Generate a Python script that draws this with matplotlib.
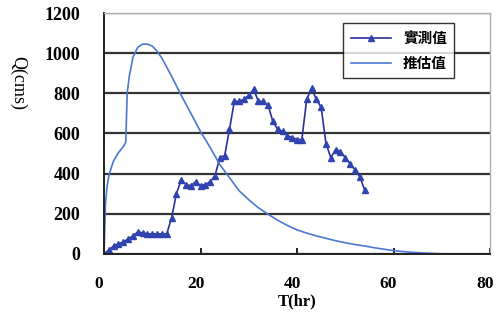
import matplotlib.pyplot as plt
from matplotlib.transforms import ScaledTranslation

plt.rcParams['font.family'] = ['Liberation Serif', 'Noto Sans CJK TC', 'DejaVu Sans']

# measured discharge (實測值), hourly
t_obs = list(range(0, 55))
q_obs = [0, 20, 40, 50, 60, 75, 90, 110, 105, 100,
         100, 100, 100, 100, 180, 300, 370, 345, 340, 360,
         340, 345, 360, 390, 480, 490, 620, 760, 760, 770,
         790, 820, 760, 760, 740, 660, 620, 610, 590, 580,
         570, 570, 770, 825, 770, 730, 550, 480, 520, 510,
         480, 450, 420, 385, 320]

# estimated discharge (推估值)
t_est = [0, 0.3, 0.6, 1, 1.5, 2, 3, 4, 4.5, 4.8, 5.2, 6, 7, 8, 9, 10, 11, 12,
         14, 16, 18, 20, 22, 24, 26, 28, 30, 32, 34, 36, 38, 40, 42, 44, 46,
         48, 50, 52, 54, 56, 58, 60, 62, 64, 66, 68, 70, 71]
q_est = [0, 250, 330, 390, 430, 465, 505, 535, 555, 800, 880, 980, 1030, 1045,
         1045, 1035, 1010, 975, 885, 790, 700, 610, 530, 445, 380, 315, 270,
         230, 198, 168, 142, 120, 104, 90, 78, 66, 56, 47, 40, 31, 24, 17, 12,
         8, 5, 3, 1, 0]

fig = plt.figure(figsize=(4.97, 3.25), dpi=100)
ax = fig.add_axes([0.2093, 0.2185, 0.7767, 0.7415])

ax.plot(t_obs, q_obs, color='#2b2f9a', lw=1.2, marker='^', ms=5,
        mfc='#2f44b0', mec='#2f44b0', label='實測值')
ax.plot(t_est, q_est, color='#4a78d0', lw=1.2, label='推估值')

ax.set_xlim(0, 80)
ax.set_ylim(0, 1200)
ax.set_xticks([0, 20, 40, 60, 80])
ax.set_yticks(range(0, 1201, 200))
ax.yaxis.grid(True, color='#333333', lw=1.6)
ax.set_axisbelow(True)

for s in ['top', 'right']:
    ax.spines[s].set_color('#b0b0b0')
    ax.spines[s].set_linewidth(1.0)
ax.spines['left'].set_color('#222222')
ax.spines['bottom'].set_color('#222222')
ax.spines['left'].set_linewidth(1.4)
ax.spines['bottom'].set_linewidth(1.4)

ax.tick_params(axis='y', length=0, pad=17, labelsize=13)
ax.tick_params(axis='x', direction='in', length=4, width=1.2, pad=16, labelsize=12.5)
shift = ScaledTranslation(-5 / 100, 0, fig.dpi_scale_trans)
for lab in ax.get_xticklabels():
    lab.set_fontweight('bold')
    lab.set_transform(lab.get_transform() + shift)
for lab in ax.get_yticklabels():
    lab.set_fontweight('bold')

ax.set_xlabel('T(hr)', fontsize=12, fontweight='bold', labelpad=1)
fig.text(0.036, 0.745, 'Q(cms)', rotation=270, fontsize=13, ha='center', va='center')

leg = ax.legend(loc='upper left', bbox_to_anchor=(0.62, 0.958), frameon=True,
                fancybox=False, edgecolor='black', borderaxespad=0,
                prop={'family': ['Noto Sans CJK TC'], 'weight': 'bold', 'size': 10.5},
                handlelength=2.8, borderpad=0.5, labelspacing=0.6)
leg.get_frame().set_linewidth(1.0)

fig.savefig('out.png', dpi=100)
